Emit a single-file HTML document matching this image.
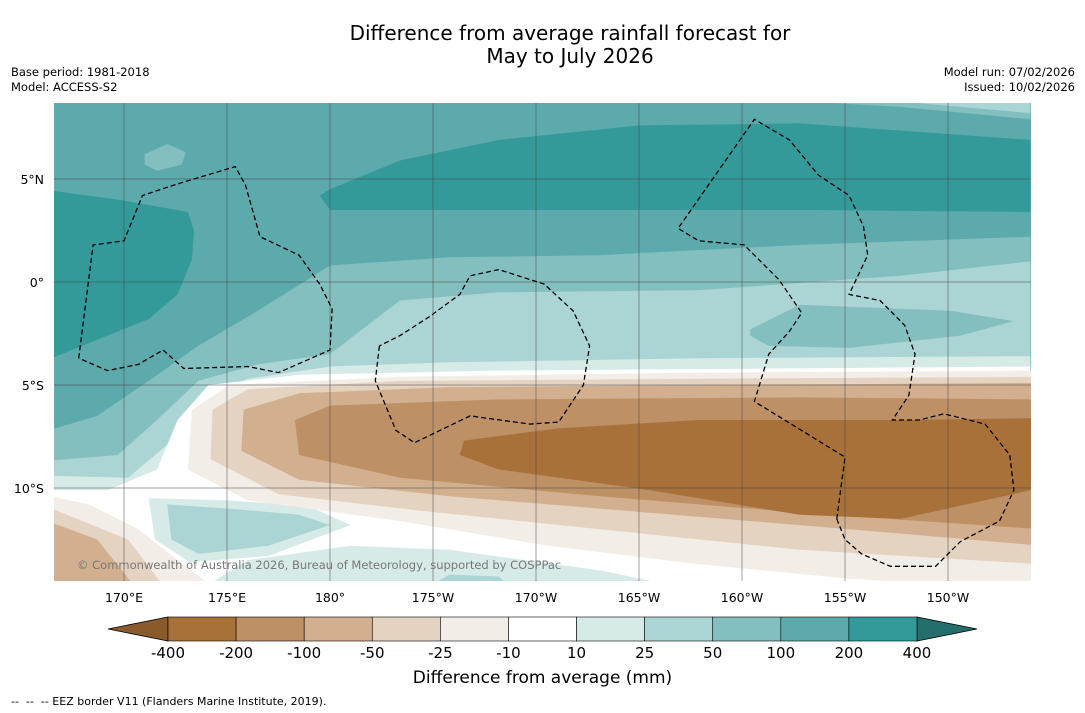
<!DOCTYPE html>
<html><head><meta charset="utf-8"><style>
body{margin:0;background:#fff;font-family:"DejaVu Sans","Liberation Sans",sans-serif;}
#wrap{position:relative;width:1085px;height:713px;overflow:hidden;}
.t{position:absolute;white-space:nowrap;}
</style></head><body>
<div id="wrap">
<div class="t" style="left:0;width:1140px;text-align:center;top:22px;font-size:20px;line-height:23px;color:#000">Difference from average rainfall forecast for<br>May to July 2026</div>
<div class="t" style="left:11px;top:65px;font-size:11.5px;line-height:15px">Base period: 1981-2018<br>Model: ACCESS-S2</div>
<div class="t" style="right:10px;top:65px;font-size:11.5px;line-height:15px;text-align:right">Model run: 07/02/2026<br>Issued: 10/02/2026</div>
<svg id="map" width="1085" height="713" style="position:absolute;left:0;top:0"></svg>
<div class="t" style="left:77px;top:558px;font-size:11.5px;color:#777">© Commonwealth of Australia 2026, Bureau of Meteorology, supported by COSPPac</div>
<div class="t" style="left:0;width:1085px;text-align:center;top:668px;font-size:17px">Difference from average (mm)</div>
<div class="t" style="left:11px;top:695px;font-size:11px;white-space:pre">--  --  -- EEZ border V11 (Flanders Marine Institute, 2019).</div>
</div>
<script>
const lonTicks=[170,175,180,185,190,195,200,205,210];
const lonLabels=["170°E","175°E","180°","175°W","170°W","165°W","160°W","155°W","150°W"];
const latTicks=[5,0,-5,-10];
const latLabels=["5°N","0°","5°S","10°S"];
const levels=["-400","-200","-100","-50","-25","-10","10","25","50","100","200","400"];
const C={n400:"#a9713a",n200:"#be9065",n100:"#d2b08f",n50:"#e5d3c1",n25:"#f3ede7",w:"#ffffff",p10:"#d6eae8",p25:"#abd5d4",p50:"#84bfbf",p100:"#5caaac",p200:"#339a99",p400:"#246f6d"};
const bandColors=[C.n200,C.n100,C.n50,C.n25,C.w,C.p10,C.p25,C.p50,C.p100,C.p200];
const bands=[
["p200",[[179.5,4.2],[180,4.5],[183.4,5.9],[188.2,6.9],[195,7.6],[202.8,7.7],[214,6.9],[214,3.4],[202.8,3.5],[193.1,3.5],[180,3.5]]],
["p200",[[166,4.5],[169.7,4.0],[173.1,3.4],[173.4,2.5],[173.3,1.1],[172.6,-0.6],[171.2,-1.8],[168.7,-2.8],[166,-3.9]]],
["p50",[[198.8,9],[207.7,8.5],[214,7.9],[214,9]]],
["p25",[[205,9],[214,8.2],[214,9]]],
["p50",[[171,6.2],[172.1,6.7],[173,6.3],[172.8,5.7],[171.6,5.4],[171,5.7]]],
["p50",[[166,-7.3],[168.7,-6.5],[171.2,-4.8],[173.6,-3.1],[176.5,-1.4],[180,0.8],[185.8,1.2],[193.1,1.3],[202.8,1.8],[214,2.2],[214,-15],[166,-15]]],
["p25",[[166,-8.7],[169.7,-8.4],[171.6,-6.7],[173.6,-4.8],[176.5,-4.0],[180,-3.5],[183.4,-0.9],[188.2,-0.5],[197.9,-0.4],[207.7,0.3],[214,1.0],[214,-15],[166,-15]]],
["p50",[[200.4,-2.3],[202.8,-1.1],[210.1,-1.4],[213.2,-1.9],[210.6,-2.6],[205.2,-3.2],[201.3,-3.1],[200.4,-2.6]]],
["p10",[[166,-9.4],[170.2,-9.5],[172.1,-7.9],[173.6,-5.7],[176,-4.7],[180,-4.1],[185.8,-3.9],[197.9,-3.7],[214,-3.6],[214,-15],[166,-15]]],
["w",[[166,-10.1],[169.2,-10.1],[171.6,-9.1],[172.6,-6.7],[174.1,-5.0],[178.5,-4.5],[188.2,-4.3],[214,-4.1],[214,-15],[166,-15]]],
["p10",[[173.6,-15],[176,-13.5],[181,-12.8],[185.8,-13],[193.1,-14],[197.9,-15]]],
["p25",[[184.4,-15],[185.8,-14.2],[188.2,-14.3],[189,-15]]],
["p10",[[171.2,-10.5],[175.1,-10.6],[179,-10.9],[181,-11.8],[177,-13.3],[173.2,-13.6],[171.5,-12.5]]],
["p25",[[172.1,-10.8],[175.1,-11],[178.5,-11.3],[180,-11.8],[177,-12.8],[173.6,-13.2],[172.3,-12.5]]],
["n25",[[166,-10.3],[168.3,-10.8],[170.7,-12],[172.6,-13.5],[174.6,-15],[166,-15]]],
["n50",[[166,-10.8],[170.2,-12.5],[172.1,-15],[166,-15]]],
["n100",[[166,-11.5],[168.7,-12.5],[170.7,-15],[166,-15]]],
["n25",[[214.5,-4.3],[197.9,-4.4],[183.4,-4.6],[175.1,-5.0],[173.3,-6.2],[173.1,-9.1],[176,-10.6],[183.4,-11.6],[190.6,-12.8],[197.9,-13.7],[205.2,-14.4],[214.5,-15]]],
["n50",[[214.5,-4.6],[197.9,-4.7],[183.4,-4.8],[176,-5.2],[174.3,-6.2],[174.2,-8.6],[177.5,-10.3],[184.4,-11.1],[193.1,-12],[202.8,-13],[214.5,-13.7]]],
["n100",[[214.5,-4.9],[197.9,-5.0],[185.8,-5.1],[178.5,-5.4],[175.8,-6.2],[175.7,-8.2],[178.5,-9.6],[185.8,-10.4],[195.5,-11.2],[205.2,-12],[214.5,-12.8]]],
["n200",[[214.5,-5.7],[202.8,-5.6],[188.2,-5.7],[180,-6],[178.3,-6.7],[178.5,-8.4],[183.4,-9.5],[193.1,-10.4],[202.8,-11.2],[214.5,-12]]],
["n400",[[214.5,-6.6],[207.7,-6.7],[197.9,-6.7],[191.1,-7.1],[186.5,-7.7],[186.3,-8.4],[188.2,-9.1],[195.5,-10.1],[202.8,-11.3],[207.7,-11.5],[214.5,-10]]]
];
const eez=[
[[167.8,-3.7],[168.5,1.8],[170,2.0],[170.9,4.2],[172.4,4.7],[175.4,5.6],[175.9,4.7],[176.6,2.2],[178.5,1.3],[179.5,-0.1],[180.1,-1.3],[180,-3.3],[177.5,-4.4],[176,-4.1],[172.9,-4.2],[171.9,-3.3],[170.7,-4.0],[169.2,-4.3],[167.8,-3.7]],
[[182.4,-3.1],[182.2,-4.8],[183.2,-7.2],[184.1,-7.8],[186.8,-6.5],[189.7,-6.9],[191.1,-6.8],[192.3,-5.0],[192.6,-3.1],[191.8,-1.4],[190.4,-0.1],[188.2,0.6],[186.8,0.3],[186.3,-0.6],[184.8,-1.7],[183.4,-2.6],[182.4,-3.1]],
[[204.6,-11.5],[205,-8.5],[200.6,-5.8],[201.3,-3.5],[202.3,-2.4],[202.9,-1.5],[201.8,0.1],[200.1,1.8],[197.9,2.0],[196.9,2.6],[200.6,7.9],[202.3,6.9],[203.7,5.2],[205.2,4.2],[205.9,2.7],[206.1,1.3],[205.2,-0.6],[206.7,-0.9],[207.9,-2.1],[208.4,-3.5],[208.1,-5.5],[207.3,-6.7],[208.6,-6.7],[209.8,-6.4],[211.8,-6.9],[213,-8.4],[213.2,-10.1],[212.5,-11.6],[210.6,-12.6],[209.4,-13.8],[207.2,-13.8],[205.8,-13.2],[205,-12.5],[204.6,-11.5]]
];
const M={x0:54,x1:1031,y0:103,y1:581};
const X=lon=>330+(lon-180)*20.6;
const Y=lat=>282-lat*20.6;
const NS="http://www.w3.org/2000/svg";
const FONT='DejaVu Sans, Liberation Sans, sans-serif';
const svg=document.getElementById('map');
function mk(t,a,p){const e=document.createElementNS(NS,t);for(const k in a)e.setAttribute(k,a[k]);(p||svg).appendChild(e);return e;}
const defs=mk('defs',{});
const cp=mk('clipPath',{id:'mc'},defs);mk('rect',{x:M.x0,y:M.y0,width:M.x1-M.x0,height:M.y1-M.y0},cp);
const g=mk('g',{'clip-path':'url(#mc)'});

const bg=mk('rect',{x:M.x0,y:M.y0,width:M.x1-M.x0,height:M.y1-M.y0,fill:C.p100},g);


bands.forEach(b=>{
 const p=mk('polygon',{points:b[1].map(q=>X(q[0]).toFixed(1)+','+Y(q[1]).toFixed(1)).join(' '),fill:C[b[0]]},g);
 
 
});
lonTicks.forEach((l,i)=>{
 const ln=mk('line',{x1:X(l),x2:X(l),y1:M.y0,y2:M.y1,stroke:'#444','stroke-width':0.5},g);
 
 
 const t=mk('text',{x:X(l),y:602,'font-size':12.5,'text-anchor':'middle','font-family':FONT});
 t.textContent=lonLabels[i];
 
 
});
latTicks.forEach((l,i)=>{
 const ln=mk('line',{x1:M.x0,x2:M.x1,y1:Y(l),y2:Y(l),stroke:'#444','stroke-width':0.5},g);
 
 
 const t=mk('text',{x:44,y:Y(l)+5,'font-size':12.5,'text-anchor':'end','font-family':FONT});
 t.textContent=latLabels[i];
 
 
});
eez.forEach(e=>{
 const p=mk('polyline',{points:e.map(q=>X(q[0]).toFixed(1)+','+Y(q[1]).toFixed(1)).join(' '),fill:'none',stroke:'#000','stroke-width':1.3,'stroke-dasharray':'5,3'},g);
 
 
});
const cb={x0:168,x1:917,y0:617,y1:641};
const lt=mk('polygon',{points:`108,629 ${cb.x0},${cb.y0} ${cb.x0},${cb.y1}`,fill:'#8a5a2c',stroke:'#000','stroke-width':0.8});


const rt=mk('polygon',{points:`977,629 ${cb.x1},${cb.y0} ${cb.x1},${cb.y1}`,fill:C.p400,stroke:'#000','stroke-width':0.8});


const allColors=[C.n400].concat(bandColors);
const bw2=(cb.x1-cb.x0)/allColors.length;
allColors.forEach((c,i)=>{
 const r=mk('rect',{x:cb.x0+i*bw2,y:cb.y0,width:bw2,height:cb.y1-cb.y0,fill:c,stroke:'#000','stroke-width':0.6});
 
 
});
levels.forEach((lv,i)=>{
 const t=mk('text',{x:cb.x0+i*bw2,y:658,'font-size':15,'text-anchor':'middle','font-family':FONT});
 t.textContent=lv;
 
 
});
</script>
</body></html>
